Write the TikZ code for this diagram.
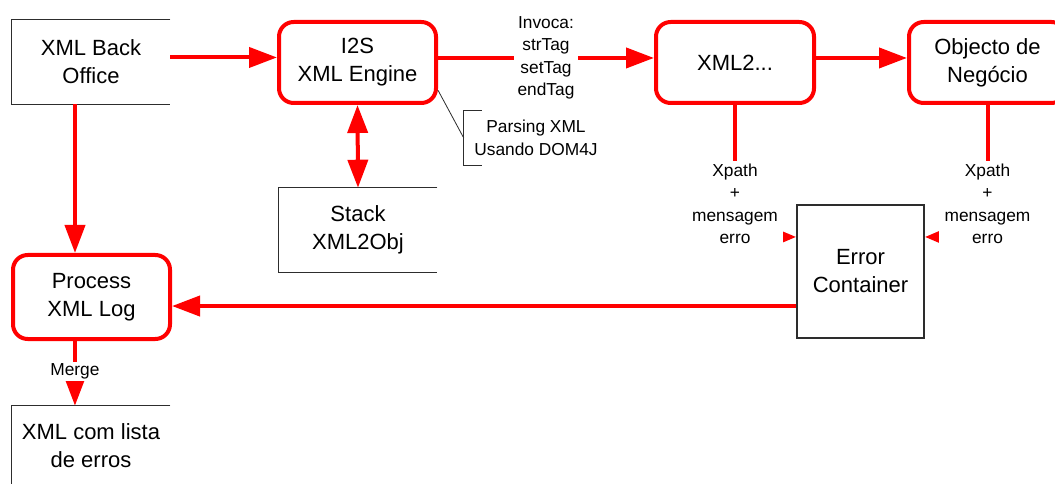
\documentclass[tikz,border=0pt]{standalone}
\usepackage{fontspec}
\setmainfont{Liberation Sans}
\usetikzlibrary{arrows.meta}
\definecolor{flowred}{RGB}{255,0,0}
\definecolor{edgegray}{RGB}{45,45,45}
\begin{document}
\begin{tikzpicture}[x=0.75pt,y=-0.75pt,
  boxfont/.style={font=\fontsize{16.5}{21}\selectfont},
  procbox/.style={boxfont, draw=flowred, line width=3pt, rounded corners=11pt,
    fill=white, align=center},
  plainbox/.style={boxfont, align=center, inner sep=0pt},
  edge/.style={draw=edgegray, line width=0.8pt},
  note/.style={align=center, font=\fontsize{13}{16.9}\selectfont},
  flow/.style={draw=flowred, line width=3pt, -{Triangle[length=21pt,width=15pt]}},
  bigtip/.style={{Triangle[length=21pt,width=15pt]}-{Triangle[length=21pt,width=15pt]}},
  smalltip/.style={-{Triangle[length=11pt,width=8pt]}}
]
\clip (0,0) rectangle (1055,484);

% processing stages (rounded red boxes)
\node[procbox, minimum width=157*0.75pt, minimum height=81*0.75pt] (i2s) at (357.5,62.5) {I2S\\XML Engine};
\node[procbox, minimum width=158*0.75pt, minimum height=81*0.75pt] (xml2) at (735,62.5) {XML2...};
\node[procbox, minimum width=157*0.75pt, minimum height=81*0.75pt] (obj) at (987.5,62.5) {Objecto de\\Neg\'ocio};
\node[procbox, minimum width=157*0.75pt, minimum height=84*0.75pt] (proc) at (91.5,297) {Process\\XML Log};

% data stores (open boxes) and the error container
\node[plainbox, minimum width=158*0.75pt, minimum height=84*0.75pt] (bo) at (91,62) {XML Back\\Office};
\draw[edge] (bo.north east) -- (bo.north west) -- (bo.south west) -- (bo.south east);

\node[plainbox, minimum width=158*0.75pt, minimum height=84*0.75pt] (stack) at (358,230) {Stack\\XML2Obj};
\draw[edge] (stack.north east) -- (stack.north west) -- (stack.south west) -- (stack.south east);

\node[plainbox, minimum width=158*0.75pt, minimum height=79*0.75pt] (out) at (91,445.5) {XML com lista\\de erros};
\draw[edge] (out.north east) -- (out.north west) -- (out.south west);

\node[plainbox, edge, minimum width=127*0.75pt, minimum height=133*0.75pt] (ec) at (860.5,271.5) {Error\\Container};

% main flow
\coordinate (boe) at ([yshift=3.4pt]bo.east);
\draw[flow] (boe) -- (boe -| i2s.west);

\coordinate (i2se) at ([yshift=3.4pt]i2s.east);
\draw[flow] (i2se) -- (i2se -| xml2.west)
  node[note, fill=white, inner xsep=2.5pt, inner ysep=1pt, pos=0.5] {Invoca:\\strTag\\setTag\\endTag};

\coordinate (x2e) at ([yshift=3.4pt]xml2.east);
\draw[flow] (x2e) -- (x2e -| obj.west);

\draw[flow, bigtip] (i2s.south) -- (stack.north);

\coordinate (bos) at ([xshift=-12pt]bo.south);
\draw[flow] (bos) -- (bos |- proc.north);

\coordinate (ecw) at ([yshift=-25.9pt]ec.west);
\draw[flow] (ecw) -- (ecw -| proc.east);

\coordinate (prs) at ([xshift=-12.4pt]proc.south);
\draw[flow] (prs) -- (prs |- out.north)
  node[note, fill=white, pos=0.47, inner sep=1.5pt] {Merge};

% error reporting into the container
\coordinate (ecl) at ([yshift=25.9pt]ec.west);
\draw[flow, smalltip] (xml2.south) |- (ecl)
  node[note, fill=white, pos=0.375, inner xsep=4pt, inner ysep=2pt] {Xpath\\+\\mensagem\\erro};

\coordinate (ecr) at ([yshift=25.9pt]ec.east);
\draw[flow, smalltip] (obj.south) |- (ecr)
  node[note, fill=white, pos=0.375, inner xsep=4pt, inner ysep=2pt] {Xpath\\+\\mensagem\\erro};

% annotation on the engine
\node[note, minimum width=144*0.75pt, minimum height=54*0.75pt, inner sep=0pt] (cal) at (536,138) {Parsing XML\\Usando DOM4J};
\draw[edge, line width=0.6pt] (i2s.-19) -- (cal.west);
\draw[edge, line width=0.6pt] ([xshift=13.5pt]cal.north west) -- (cal.north west)
  -- (cal.south west) -- ([xshift=13.5pt]cal.south west);
\end{tikzpicture}
\end{document}
